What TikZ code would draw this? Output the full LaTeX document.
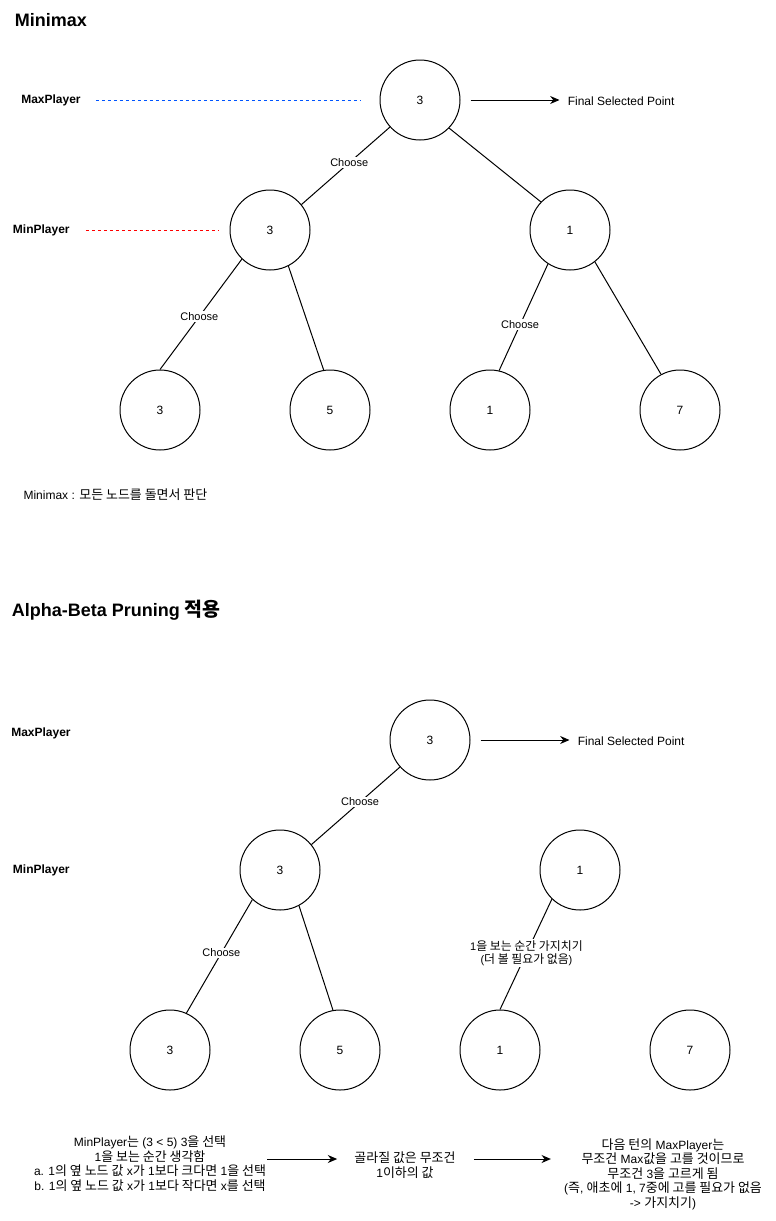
\documentclass[tikz,border=0pt]{standalone}
\usepackage{fontspec}
\setmainfont{Liberation Sans}
\newfontfamily\krfont[Scale=1.08]{Noto Sans CJK KR}
\newcommand\K[1]{{\krfont #1}}
\newcommand\ftw{\fontsize{9pt}{10.9pt}\selectfont}
\newcommand\fel{\fontsize{8.25pt}{10pt}\selectfont}
\newcommand\fttl{\fontsize{13.5pt}{16pt}\selectfont\bfseries}
\usetikzlibrary{arrows.meta}
\definecolor{dblue}{RGB}{0,85,255}
\definecolor{dred}{RGB}{255,0,0}
\begin{document}
\begin{tikzpicture}[x=0.75pt,y=-0.75pt,
  st/.style={circle,draw,line width=0.75pt,minimum size=60pt,inner sep=0pt,font=\ftw},
  edge/.style={line width=0.75pt},
  lbl/.style={fill=white,inner sep=1pt,font=\fel,align=center},
  lab/.style={inner sep=0pt,font=\ftw},
  role/.style={inner sep=0pt,font=\ftw\bfseries,anchor=west},
  ttl/.style={inner sep=0pt,font=\fttl,anchor=west},
  txt/.style={inner sep=0pt,font=\ftw,align=center},
  arr/.style={line width=0.75pt,-{Stealth[length=7pt,width=6pt]}},
  dashb/.style={dblue,line width=0.75pt,dash pattern=on 2.25pt off 2.25pt},
  dashr/.style={dred,line width=0.75pt,dash pattern=on 2.25pt off 2.25pt}]
\useasboundingbox[fill=white] (0,0) rectangle (775,1221);

% ---------- Minimax ----------
\node[ttl] (T1) at (14.5,20) {Minimax};

\node[st] (A1) at (420,100) {3};
\node[st] (A2) at (270,230) {3};
\node[st] (A3) at (570,230) {1};
\node[st] (A4) at (160,410) {3};
\node[st] (A5) at (330,410) {5};
\node[st] (A6) at (490,410) {1};
\node[st] (A7) at (680,410) {7};

\draw[edge] (A1.222) -- node[lbl,pos=0.46]{Choose} (A2.39);
\draw[edge] (A1.-44) -- (A3.136);
\draw[edge] (A2.226) -- node[lbl,pos=0.52]{Choose} (A4.90);
\draw[edge] (A2.-63) -- (A5.99);
\draw[edge] (A3.237) -- node[lbl,pos=0.57]{Choose} (A6.77);
\draw[edge] (A3.-52) -- (A7.118);

\node[role] (MX1) at (21,100) {MaxPlayer};
\node[role] (MN1) at (12.7,230) {MinPlayer};
\draw[dashb] ([xshift=11.25pt]MX1.east |- A1.west) -- ([xshift=-14.25pt]A1.west);
\draw[dashr] ([xshift=12pt]MN1.east |- A2.west) -- ([xshift=-8.25pt]A2.west);

\node[lab,anchor=west] (F1) at (567.5,101.5) {Final Selected Point};
\draw[arr] ([xshift=7.5pt]A1.east) -- ([xshift=-6pt]F1.west |- A1.east);

\node[lab,anchor=west] (N1) at (23.3,495) {Minimax : \K{모든 노드를 돌면서 판단}};

% ---------- Alpha-Beta ----------
\node[ttl] (T2) at (11.7,610) {Alpha-Beta Pruning \K{적용}};

\node[st] (B1) at (430,740) {3};
\node[st] (B2) at (280,870) {3};
\node[st] (B3) at (580,870) {1};
\node[st] (B4) at (170,1050) {3};
\node[st] (B5) at (340,1050) {5};
\node[st] (B6) at (500,1050) {1};
\node[st] (B7) at (690,1050) {7};

\draw[edge] (B1.222) -- node[lbl,pos=0.45]{Choose} (B2.39);
\draw[edge] (B2.227) -- node[lbl,pos=0.47]{Choose} (B4.66);
\draw[edge] (B2.-62) -- (B5.100);
\draw[edge] (B3.226) -- node[lbl,pos=0.49]{1\K{을 보는 순간 가지치기}\\(\K{더 볼 필요가 없음})} (B6.90);

\node[role] (MX2) at (11,733) {MaxPlayer};
\node[role] (MN2) at (12.7,870) {MinPlayer};

\node[lab,anchor=west] (F2) at (577.5,741.5) {Final Selected Point};
\draw[arr] ([xshift=7.5pt]B1.east) -- ([xshift=-6pt]F2.west |- B1.east);

\node[txt] (C1) at (150,1163.5) {MinPlayer\K{는} (3 < 5) 3\K{을 선택}\\
1\K{을 보는 순간 생각함}\\
a. 1\K{의 옆 노드 값} x\K{가} 1\K{보다 크다면} 1\K{을 선택}\\
b. 1\K{의 옆 노드 값} x\K{가} 1\K{보다 작다면} x\K{를 선택}};
\node[txt] (C2) at (405,1165) {\K{골라질 값은 무조건}\\1\K{이하의 값}};
\node[txt] (C3) at (663,1174) {\K{다음 턴의} MaxPlayer\K{는}\\
\K{무조건} Max\K{값을 고를 것이므로}\\
\K{무조건} 3\K{을 고르게 됨}\\
(\K{즉}, \K{애초에} 1, 7\K{중에 고를 필요가 없음}\\
-> \K{가지치기})};

\draw[arr] ([xshift=0.75pt]C1.east |- 0,1159) -- ([xshift=-12.75pt]C2.west |- 0,1159);
\draw[arr] ([xshift=13.5pt]C2.east |- 0,1159) -- ([xshift=-9.75pt]C3.west |- 0,1159);
\end{tikzpicture}
\end{document}
